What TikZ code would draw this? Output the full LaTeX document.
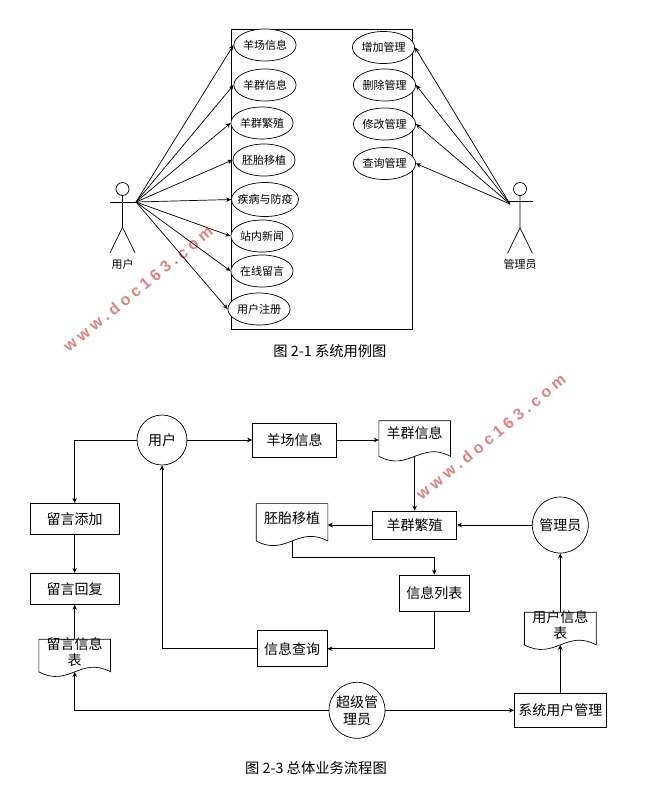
\documentclass[tikz,border=0pt]{standalone}
\usepackage[dvipsnames]{xcolor}
\usepackage{fontspec}
\setmainfont{Noto Sans CJK SC}
\newfontfamily\markfont[LetterSpace=26]{Liberation Sans Bold}
\usetikzlibrary{shapes.geometric,arrows.meta}
\definecolor{markred}{RGB}{222,130,130}
\newcommand{\doctext}[2]{\raisebox{#1}[0pt][0pt]{\shortstack{#2}}}

\begin{document}
\begin{tikzpicture}[x=1pt,y=-1pt,->,>={Stealth[length=5pt,width=4.5pt]},line width=0.7pt,
    use node/.style={ellipse,draw,fill=white,inner sep=0pt,minimum width=61pt,minimum height=32pt,font=\fontsize{11}{13}\selectfont},
    box node/.style={rectangle,draw,inner sep=0pt,minimum width=70pt,minimum height=36pt,font=\fontsize{14}{17}\selectfont},
    doc node/.style={rectangle,inner sep=0pt,minimum width=71pt,minimum height=32pt,font=\fontsize{14}{17}\selectfont,
        append after command={\pgfextra{\draw[-] (\tikzlastnode.south west) -- (\tikzlastnode.north west) -- (\tikzlastnode.north east) -- (\tikzlastnode.south east) .. controls +(-30,-16) and +(30,16) .. (\tikzlastnode.south west);}}},
    flow node/.style={circle,draw,inner sep=0pt,minimum size=56pt,align=center,font=\fontsize{14}{17}\selectfont},
    actor head/.style={circle,draw,inner sep=0pt,minimum size=13pt},
    plain node/.style={inner sep=0pt,font=\fontsize{11}{13}\selectfont},
    caption node/.style={inner sep=0pt,font=\fontsize{14.3}{16}\selectfont},
    mark node/.style={inner sep=0pt,rotate=39.3,text=markred,font=\fontsize{16}{18}\markfont}]
    \useasboundingbox (0,0) rectangle (653,798);

    % watermarks
    \node[mark node] (mark1) at (138,289) {www.doc163.com};
    \node[mark node] (mark2) at (491,437) {www.doc163.com};

    % use cases
    \node[rectangle,draw,thick,inner sep=0pt,minimum width=181pt,minimum height=300pt] (system) at (321.5,179) {};

    \node[use node] (farm) at (265,45) {羊场信息};
    \node[use node] (herd) [below of=farm,node distance=40pt] {羊群信息};
    \node[use node] (breed) [below of=herd,node distance=38pt,xshift=-3pt] {羊群繁殖};
    \node[use node] (embryo) [below of=breed,node distance=37pt,xshift=2pt] {胚胎移植};
    \node[use node,minimum width=67pt,minimum height=34pt,inner xsep=-4pt] (disease) [below of=embryo,node distance=39.5pt,xshift=1pt] {疾病与防疫};
    \node[use node] (news) [below of=disease,node distance=36.5pt,xshift=-3pt] {站内新闻};
    \node[use node] (message) [below of=news,node distance=35pt] {在线留言};
    \node[use node] (register) [below of=message,node distance=38pt,xshift=-3pt] {用户注册};

    \node[use node] (add) at (383.5,47.5) {增加管理};
    \node[use node] (delete) [below of=add,node distance=37.5pt,xshift=1pt] {删除管理};
    \node[use node] (modify) [below of=delete,node distance=39pt] {修改管理};
    \node[use node] (query) [below of=modify,node distance=39.5pt] {查询管理};

    % actors
    \node[actor head] (user) at (122.5,189) {};
    \node[plain node] (userlabel) [below of=user,node distance=75pt] {用户};
    \coordinate (userhand) at (136,202);
    \draw[-] (user.south) -- ++(0,31.5) coordinate (userhip) -- ++(-12.5,25.5);
    \draw[-] (userhip) -- ++(12.5,25.5);
    \draw[-] (110,202) -- (userhand);

    \node[actor head] (admin) at (520,189) {};
    \node[plain node] (adminlabel) [below of=admin,node distance=75pt] {管理员};
    \coordinate (adminhand) at (510,204);
    \draw[-] (admin.south) -- ++(0,32) coordinate (adminhip) -- ++(-12.5,25.5);
    \draw[-] (adminhip) -- ++(12.5,25.5);
    \draw[-] (507.5,201) -- (532.5,201);

    \path
        (userhand) edge (farm.west)
        (userhand) edge (herd.west)
        (userhand) edge (breed.west)
        (userhand) edge (embryo.west)
        (userhand) edge (disease.west)
        (userhand) edge (news.west)
        (userhand) edge (message.west)
        (userhand) edge (register.west)
        (adminhand) edge (add.east)
        (adminhand) edge (delete.east)
        (adminhand) edge (modify.east)
        (adminhand) edge (query.east)
        ;

    \node[caption node] (caption1) at (330,351) {图 2-1 系统用例图};

    % flow chart
    \node[flow node,minimum size=50pt] (fuser) at (162,440) {用户};
    \node[box node,minimum width=84pt,minimum height=34pt] (ffarm) at (294.5,440) {羊场信息};
    \node[doc node,minimum height=35pt] (fherd) at (414.7,438.5) {\doctext{0.5pt}{羊群信息}};
    \node[box node,minimum width=84pt,minimum height=28pt] (fbreed) at (414.7,525) {羊群繁殖};
    \node[doc node,minimum height=36.7pt] (fembryo) at (292,522.3) {\doctext{-1pt}{胚胎移植}};
    \node[flow node] (fadmin) at (560.3,525) {管理员};
    \node[box node] (flist) at (434.3,593) {信息列表};
    \node[box node] (fquery) at (292,648.7) {信息查询};
    \node[box node,minimum width=89pt,minimum height=31pt] (fadd) at (74.7,518.8) {留言添加};
    \node[box node,minimum width=89pt,minimum height=31pt] (freply) [below of=fadd,node distance=70pt] {留言回复};
    \node[doc node] (ftable) at (74.7,655.5) {\doctext{-10pt}{留言信息\\表}};
    \node[flow node] (fsuper) at (357,710.3) {超级管\\理员};
    \node[box node,minimum width=92pt,minimum height=34pt] (fsys) at (560.3,710.3) {系统用户管理};
    \node[doc node] (fusers) at (560.3,628.5) {\doctext{-10pt}{用户信息\\表}};

    \path
        (fuser) edge (ffarm)
        (ffarm) edge (ffarm -| fherd.west)
        (fherd.south) edge (fbreed)
        (fbreed) edge (fbreed -| fembryo.east)
        (fadmin) edge (fbreed)
        (fusers.north) edge (fadmin)
        (fsys) edge (fusers.south)
        (fadd) edge (freply)
        (ftable.north) edge (freply)
        (fsuper) edge (fsys)
        ;
    \draw (fuser) -| (fadd);
    \draw (fembryo.south) |- (370,557.7) -| (flist);
    \draw (flist) |- (fquery);
    \draw (fquery) -| (fuser);
    \draw (fsuper) -| (ftable.south);

    \node[caption node] (caption2) at (316,768) {图 2-3 总体业务流程图};
\end{tikzpicture}
\end{document}
